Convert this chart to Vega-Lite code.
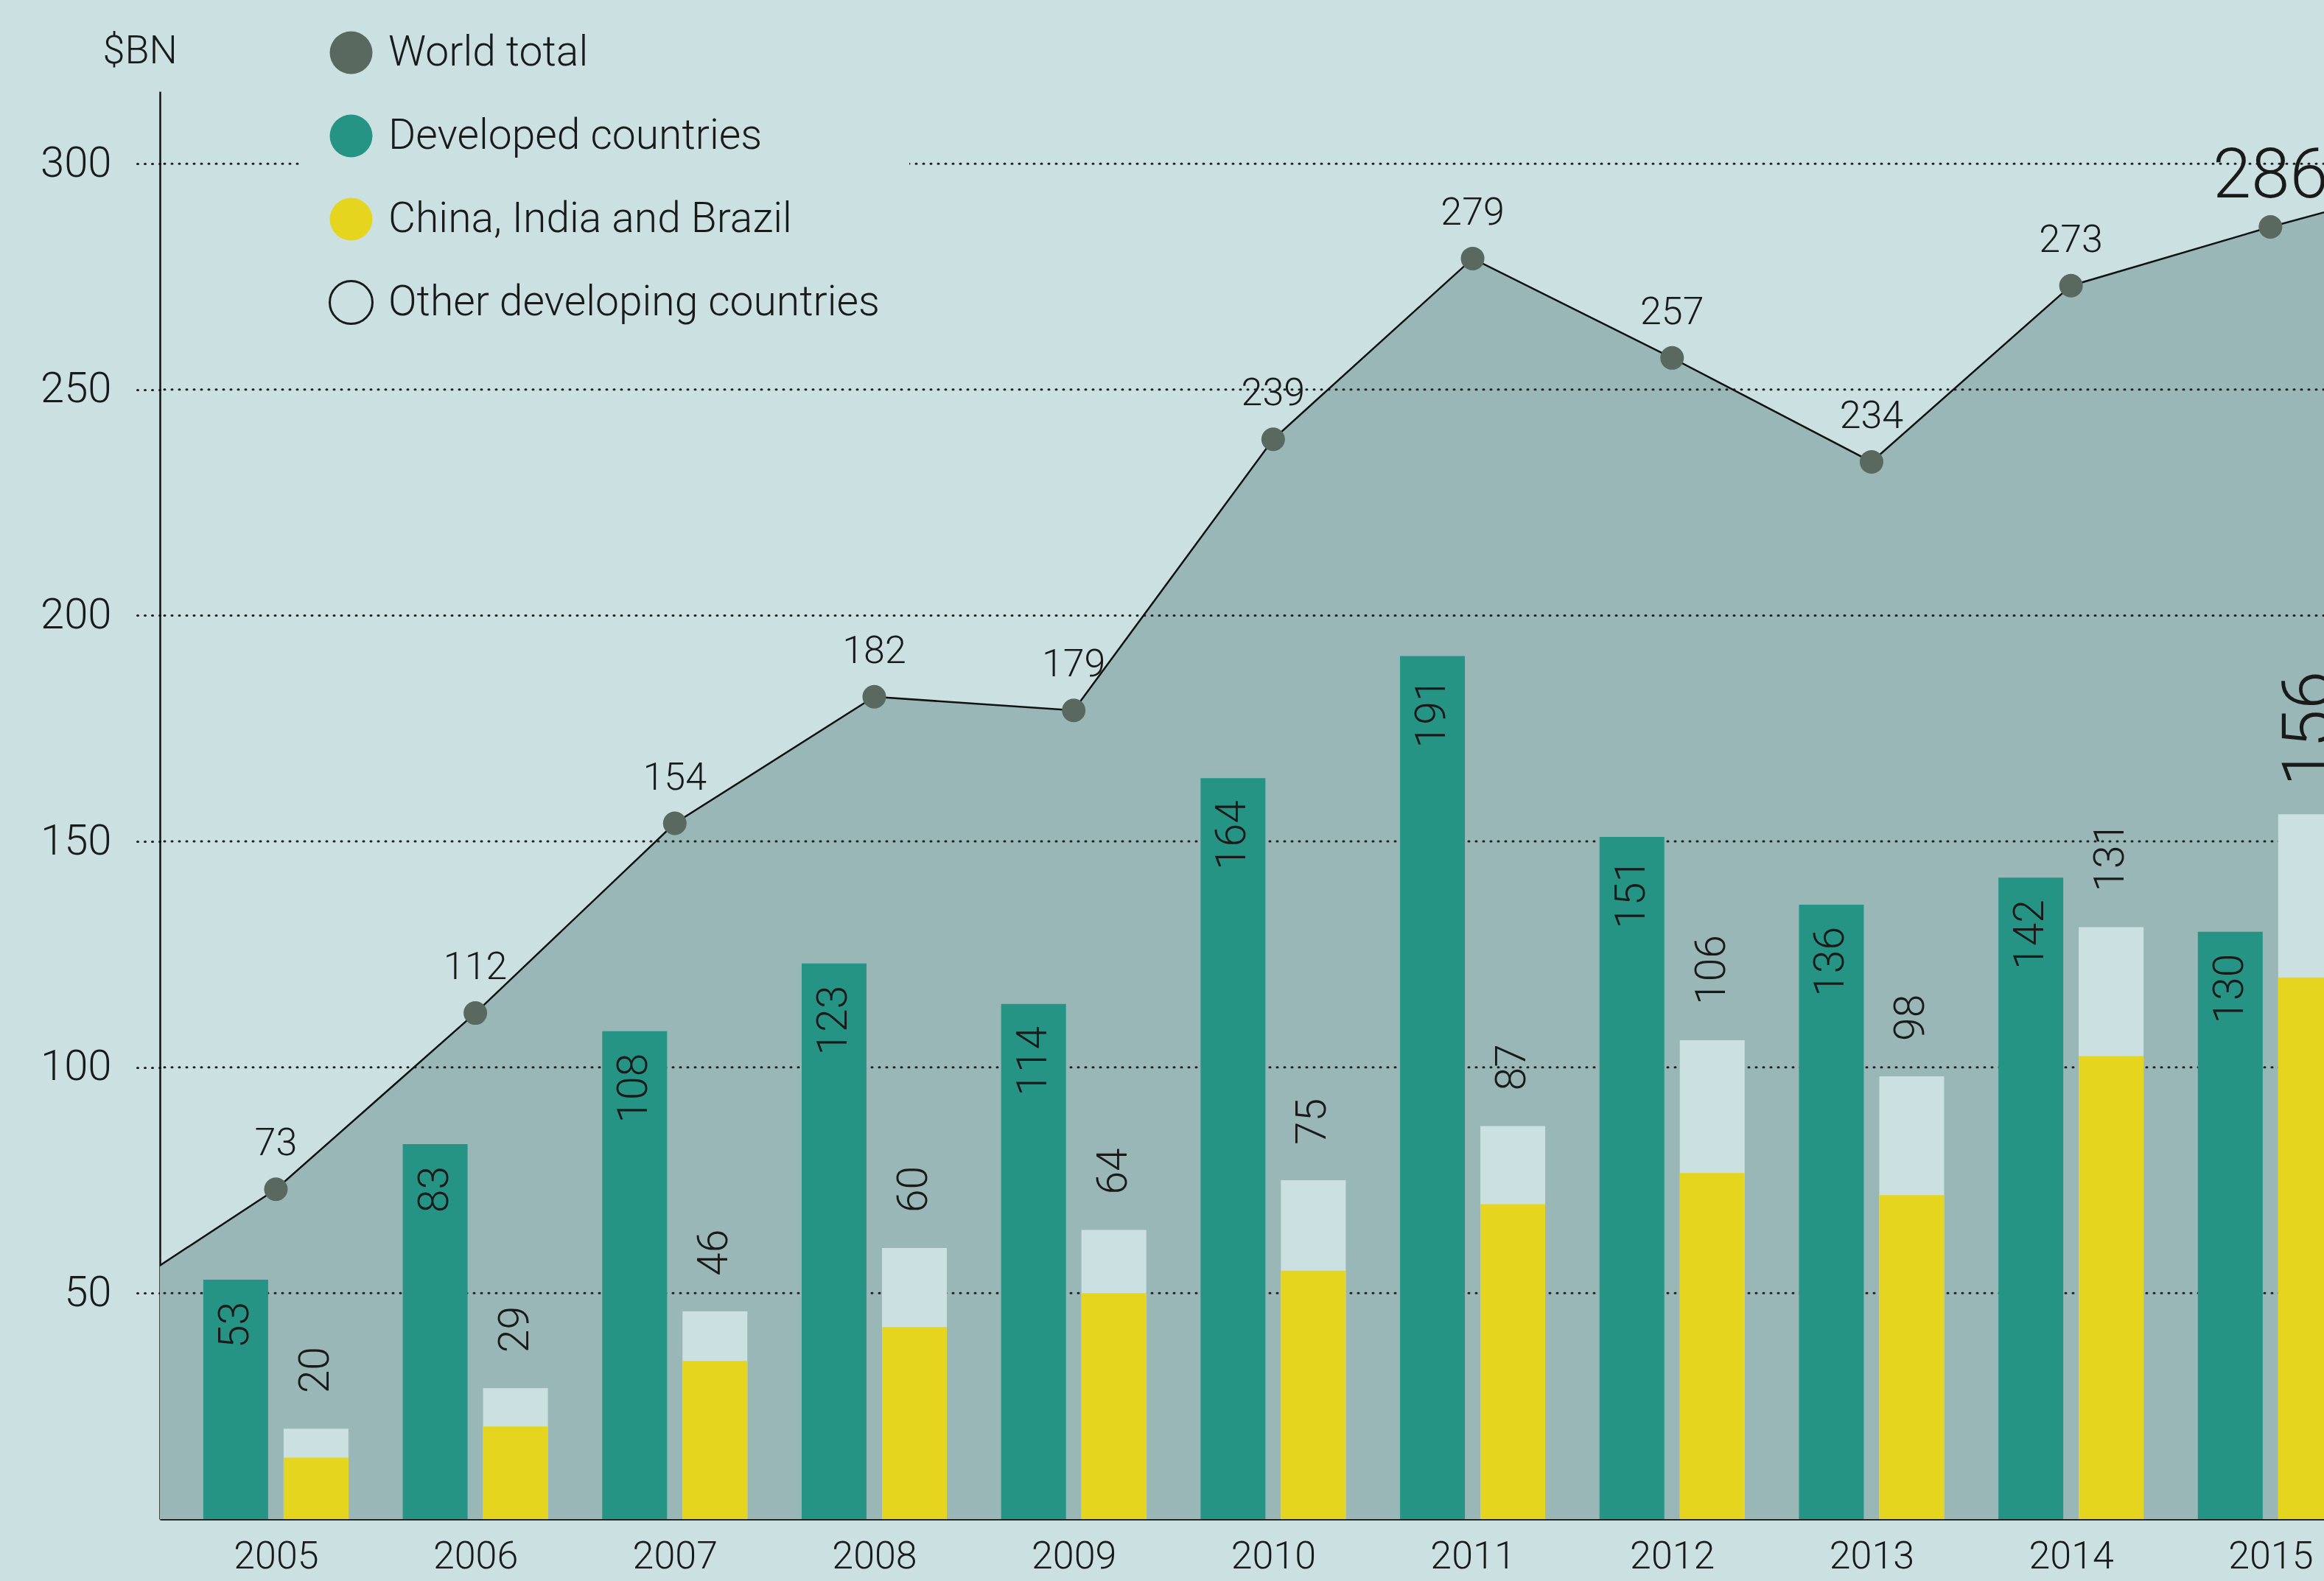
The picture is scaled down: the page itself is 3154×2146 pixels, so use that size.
{
  "$schema": "https://vega.github.io/schema/vega-lite/v6.json",
  "autosize": {"type": "none"},
  "width": 2937,
  "height": 1938,
  "padding": {"left": 217, "top": 124, "right": 0, "bottom": 84},
  "background": "#cbe1e1",
  "data": {
    "values": [
      {"year": 2004, "world": 44},
      {"year": 2005, "world": 73, "developed": 53, "developing": 20, "cib": 13.6},
      {"year": 2006, "world": 112, "developed": 83, "developing": 29, "cib": 20.5},
      {"year": 2007, "world": 154, "developed": 108, "developing": 46, "cib": 35},
      {"year": 2008, "world": 182, "developed": 123, "developing": 60, "cib": 42.5},
      {"year": 2009, "world": 179, "developed": 114, "developing": 64, "cib": 50},
      {"year": 2010, "world": 239, "developed": 164, "developing": 75, "cib": 55},
      {"year": 2011, "world": 279, "developed": 191, "developing": 87, "cib": 69.7},
      {"year": 2012, "world": 257, "developed": 151, "developing": 106, "cib": 76.6},
      {"year": 2013, "world": 234, "developed": 136, "developing": 98, "cib": 71.7},
      {"year": 2014, "world": 273, "developed": 142, "developing": 131, "cib": 102.5},
      {"year": 2015, "world": 286, "developed": 130, "developing": 156, "cib": 119.9},
      {"year": 2016, "world": 298}
    ]
  },
  "layer": [
    {
      "mark": {"type": "area", "color": "#98b7b6", "clip": true},
      "encoding": {
        "x": {
          "field": "year",
          "type": "quantitative",
          "scale": {"domain": [2004.437, 2015.25], "nice": false, "zero": false},
          "axis": {
            "values": [2005, 2006, 2007, 2008, 2009, 2010, 2011, 2012, 2013, 2014, 2015],
            "format": "d",
            "title": null,
            "grid": false,
            "ticks": false,
            "labelFontSize": 52,
            "labelFont": "Roboto",
            "labelFontWeight": 300,
            "labelColor": "#1a1a1a",
            "labelBaseline": "alphabetic",
            "labelPadding": 66,
            "labelFlush": false,
            "labelOverlap": false,
            "domainColor": "#111111",
            "domainWidth": 2.5
          }
        },
        "y": {
          "field": "world",
          "type": "quantitative",
          "scale": {"domain": [0, 316], "nice": false, "zero": true},
          "axis": {
            "values": [50, 100, 150, 200, 250, 300],
            "grid": false,
            "title": "$BN",
            "titleAngle": 0,
            "titleAlign": "left",
            "titleBaseline": "alphabetic",
            "titleX": -78,
            "titleY": -39,
            "titleFontSize": 54,
            "titleFont": "Roboto",
            "titleFontWeight": 300,
            "titleColor": "#1a1a1a",
            "labelFontSize": 58,
            "labelFont": "Roboto",
            "labelFontWeight": 300,
            "labelColor": "#1a1a1a",
            "labelPadding": 31,
            "tickSize": 35,
            "tickDash": [1, 9],
            "tickCap": "round",
            "tickWidth": 3,
            "tickColor": "#222222",
            "domainColor": "#111111",
            "domainWidth": 2.5
          }
        }
      }
    },
    {
      "data": {"values": [{"v": 50}, {"v": 100}, {"v": 150}, {"v": 200}, {"v": 250}, {"v": 300}]},
      "mark": {"type": "rule", "color": "#222222", "strokeWidth": 3, "strokeDash": [1, 9], "strokeCap": "round"},
      "encoding": {"y": {"field": "v", "type": "quantitative"}}
    },
    {
      "mark": {"type": "line", "color": "#111111", "strokeWidth": 2.5, "clip": true},
      "encoding": {
        "x": {"field": "year", "type": "quantitative"},
        "y": {"field": "world", "type": "quantitative"}
      }
    },
    {
      "mark": {"type": "bar", "width": 88, "xOffset": -54.5, "clip": true},
      "encoding": {
        "x": {"field": "year", "type": "quantitative"},
        "y": {"field": "developed", "type": "quantitative"},
        "color": {
          "datum": "Developed countries",
          "scale": {
            "domain": ["World total", "Developed countries", "China, India and Brazil", "Other developing countries"],
            "range": ["#59695f", "#269484", "#e5d51f", "#cbe1e1"]
          },
          "legend": {
            "title": null,
            "orient": "none",
            "legendX": 189,
            "legendY": -123,
            "padding": 40,
            "fillColor": "#cbe1e1",
            "symbolType": "circle",
            "symbolSize": 3364,
            "symbolOpacity": 1,
            "labelFont": "Roboto",
            "labelFontWeight": 300,
            "labelFontSize": 57,
            "labelColor": "#1a1a1a",
            "labelLimit": 2000,
            "labelOffset": 20,
            "rowPadding": 42,
            "encode": {
              "symbols": {
                "update": {
                  "stroke": {"signal": "datum.value === 'Other developing countries' ? '#1a1a1a' : 'transparent'"},
                  "strokeWidth": {"value": 3}
                }
              }
            }
          }
        }
      }
    },
    {
      "mark": {"type": "bar", "width": 88, "xOffset": 54.5, "clip": true},
      "encoding": {
        "x": {"field": "year", "type": "quantitative"},
        "y": {"field": "developing", "type": "quantitative"},
        "color": {"datum": "Other developing countries"}
      }
    },
    {
      "mark": {"type": "bar", "width": 88, "xOffset": 54.5, "clip": true},
      "encoding": {
        "x": {"field": "year", "type": "quantitative"},
        "y": {"field": "cib", "type": "quantitative"},
        "color": {"datum": "China, India and Brazil"}
      }
    },
    {
      "mark": {"type": "point", "filled": true, "opacity": 1, "color": "#59695f", "size": 1024, "clip": true},
      "encoding": {
        "x": {"field": "year", "type": "quantitative"},
        "y": {"field": "world", "type": "quantitative"}
      }
    },
    {
      "transform": [{"filter": "datum.year >= 2005 && datum.year <= 2014"}],
      "mark": {"type": "text", "font": "Roboto", "fontWeight": 300, "fontSize": 52, "color": "#1a1a1a", "align": "center", "baseline": "alphabetic", "dy": -46},
      "encoding": {
        "x": {"field": "year", "type": "quantitative"},
        "y": {"field": "world", "type": "quantitative"},
        "text": {"field": "world", "type": "quantitative", "format": "d"}
      }
    },
    {
      "transform": [{"filter": "datum.year == 2015"}],
      "mark": {"type": "text", "font": "Roboto", "fontWeight": 300, "fontSize": 94, "color": "#1a1a1a", "align": "center", "baseline": "alphabetic", "dy": -40},
      "encoding": {
        "x": {"field": "year", "type": "quantitative"},
        "y": {"field": "world", "type": "quantitative"},
        "text": {"field": "world", "type": "quantitative", "format": "d"}
      }
    },
    {
      "transform": [{"filter": "datum.year >= 2005 && datum.year <= 2015"}],
      "mark": {"type": "text", "font": "Roboto", "fontWeight": 300, "fontSize": 57, "color": "#1a1a1a", "angle": 270, "align": "right", "baseline": "middle", "dx": -30, "xOffset": -54.5},
      "encoding": {
        "x": {"field": "year", "type": "quantitative"},
        "y": {"field": "developed", "type": "quantitative"},
        "text": {"field": "developed", "type": "quantitative", "format": "d"}
      }
    },
    {
      "transform": [{"filter": "datum.year >= 2005 && datum.year <= 2014"}],
      "mark": {"type": "text", "font": "Roboto", "fontWeight": 300, "fontSize": 57, "color": "#1a1a1a", "angle": 270, "align": "left", "baseline": "middle", "dx": 48, "xOffset": 54.5},
      "encoding": {
        "x": {"field": "year", "type": "quantitative"},
        "y": {"field": "developing", "type": "quantitative"},
        "text": {"field": "developing", "type": "quantitative", "format": "d"}
      }
    },
    {
      "transform": [{"filter": "datum.year == 2015"}],
      "mark": {"type": "text", "font": "Roboto", "fontWeight": 300, "fontSize": 94, "color": "#1a1a1a", "angle": 270, "align": "left", "baseline": "middle", "dx": 38, "xOffset": 54.5},
      "encoding": {
        "x": {"field": "year", "type": "quantitative"},
        "y": {"field": "developing", "type": "quantitative"},
        "text": {"field": "developing", "type": "quantitative", "format": "d"}
      }
    }
  ],
  "config": {
    "view": {"stroke": null},
    "font": "Roboto"
  }
}
